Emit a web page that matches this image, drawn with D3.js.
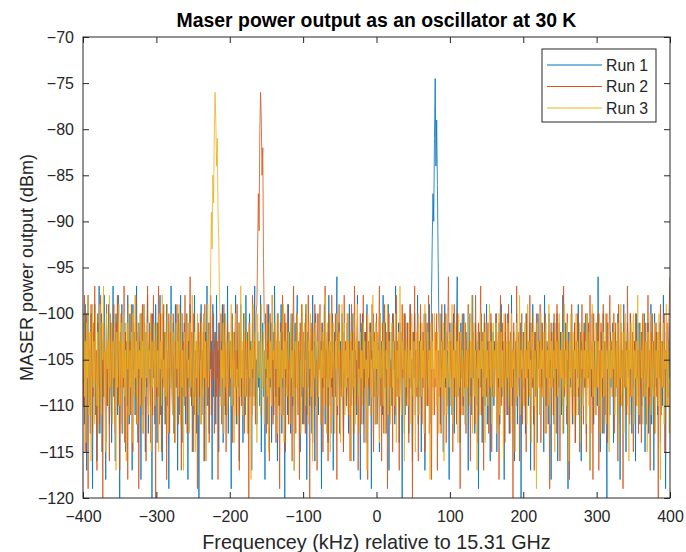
<!DOCTYPE html>
<html>
<head>
<meta charset="utf-8">
<script src="https://cdn.jsdelivr.net/npm/d3@7"></script>
<style>
  body { margin: 0; background: #fff; }
  svg { display: block; font-family: "Liberation Sans", Arial, sans-serif; }
</style>
</head>
<body>
<div id="chart"></div>
<script>
const layout = {
    width: 686,
    height: 552,
    marginTop: 37,
    marginBottom: 54,
    marginLeft: 83,
    marginRight: 16
};

// sampling grid of the spectrum (kHz relative to 15.31 GHz)
const freqStart = -400;
const freqStep = 1;

const seriesNames = ["Run 1", "Run 2", "Run 3"];
const seriesColors = ["#0072BD", "#D95319", "#EDB120"];

const xTicks = [-400, -300, -200, -100, 0, 100, 200, 300, 400];
const yTicks = [-120, -115, -110, -105, -100, -95, -90, -85, -80, -75, -70];

// power readings (dBm), one per grid step
const run1 = [
    -108,-101,-112,-99,-106,-117,-103,-98,-110,-104,-113,-100,-107,-119,-102,-105,-99,-111,-104,-116,-101,-108,-97,-113,-105,-100,-115,-103,-109,-98,-106,-118,-102,-110,-104,-99,-112,-107,-101,-114,
    -104,-97,-109,-103,-116,-100,-106,-111,-98,-105,-120,-102,-108,-99,-113,-104,-107,-101,-115,-103,-110,-98,-105,-112,-100,-108,-103,-117,-99,-106,-102,-111,-104,-97,-109,-114,-101,-107,-103,-118,
    -100,-106,-111,-99,-104,-115,-102,-108,-98,-113,-105,-101,-110,-103,-121,-100,-107,-104,-112,-99,-106,-114,-101,-109,-103,-98,-111,-105,-116,-100,-107,-102,-112,-104,-99,-110,-106,-119,-102,-108,
    -97,-105,-110,-101,-113,-104,-99,-108,-103,-117,-100,-106,-111,-98,-105,-114,-102,-109,-101,-107,-112,-100,-104,-118,-103,-108,-99,-106,-110,-102,-115,-105,-98,-109,-104,-113,-101,-107,-120,-103,
    -105,-99,-111,-104,-108,-100,-116,-102,-107,-97,-110,-105,-113,-101,-106,-103,-118,-99,-109,-104,-102,-112,-98,-107,-104,-115,-101,-109,-103,-106,-99,-114,-105,-100,-111,-104,-108,-97,-113,-102,
    -107,-103,-119,-100,-106,-110,-102,-105,-98,-112,-104,-108,-101,-116,-103,-99,-109,-106,-114,-100,-104,-111,-98,-106,-102,-113,-105,-100,-109,-103,-117,-101,-107,-104,-97,-110,-105,-112,-102,-108,
    -103,-110,-98,-115,-106,-101,-109,-104,-118,-100,-107,-103,-112,-99,-105,-108,-101,-114,-106,-102,-111,-97,-104,-109,-103,-116,-100,-106,-110,-105,-99,-113,-102,-108,-104,-120,-101,-107,-103,-111,
    -99,-106,-102,-113,-105,-100,-110,-104,-117,-101,-108,-103,-98,-111,-106,-102,-115,-104,-109,-100,-107,-112,-103,-105,-99,-118,-102,-108,-104,-110,-101,-106,-113,-98,-107,-103,-116,-100,-105,-109,
    -104,-111,-100,-106,-103,-119,-101,-108,-105,-99,-112,-104,-107,-102,-114,-98,-106,-110,-103,-108,-100,-117,-105,-102,-109,-104,-96,-111,-106,-101,-113,-103,-108,-100,-105,-115,-102,-107,-104,-110,
    -101,-108,-113,-99,-105,-103,-110,-106,-100,-116,-102,-107,-104,-111,-98,-109,-103,-105,-118,-101,-106,-100,-112,-104,-108,-102,-114,-99,-107,-103,-110,-105,-101,-119,-104,-106,-100,-109,-103,-112,
    -106,-102,-109,-104,-115,-100,-107,-103,-111,-98,-105,-108,-101,-113,-106,-104,-99,-117,-102,-108,-105,-110,-100,-106,-103,-112,-97,-109,-104,-107,-101,-114,-105,-102,-108,-120,-103,-106,-100,-111,
    -104,-109,-101,-106,-113,-103,-99,-108,-105,-116,-102,-107,-100,-111,-104,-106,-98,-112,-103,-109,-101,-115,-105,-102,-108,-104,-117,-100,-106,-110,-103,-105,-99,-112,-107,-98,-92,-87,-90,-81,
    -74.5,-84,-79,-86,-94,-101,-104,-112,-100,-106,-103,-115,-105,-99,-108,-102,-110,-104,-107,-118,-101,-106,-103,-111,-105,-100,-113,-104,-108,-102,-96,-109,-106,-103,-114,-101,-107,-104,-110,-100,
    -106,-112,-102,-108,-104,-117,-100,-105,-109,-103,-111,-98,-107,-104,-113,-101,-106,-110,-103,-119,-102,-105,-108,-100,-114,-104,-107,-101,-110,-105,-99,-112,-103,-108,-106,-116,-101,-104,-109,-102,
    -110,-103,-106,-100,-115,-104,-108,-101,-112,-106,-99,-109,-103,-105,-118,-102,-107,-104,-111,-100,-106,-113,-103,-108,-98,-110,-105,-102,-116,-104,-107,-100,-112,-106,-103,-109,-101,-120,-105,-104,
    -102,-108,-105,-113,-100,-107,-103,-110,-106,-101,-117,-104,-108,-99,-112,-105,-102,-109,-104,-114,-100,-106,-103,-111,-107,-101,-108,-105,-115,-98,-106,-110,-103,-104,-112,-100,-107,-105,-118,-102,
    -107,-101,-112,-104,-106,-109,-100,-116,-103,-108,-105,-102,-111,-106,-98,-113,-104,-107,-101,-110,-105,-119,-102,-106,-103,-108,-100,-112,-104,-109,-101,-114,-106,-103,-107,-99,-111,-105,-102,-116,
    -103,-106,-110,-101,-108,-104,-113,-100,-105,-107,-102,-117,-104,-109,-100,-106,-112,-103,-108,-105,-101,-110,-96,-107,-104,-115,-102,-106,-109,-100,-113,-105,-103,-108,-120,-101,-106,-104,-111,-102,
    -108,-104,-101,-114,-106,-102,-109,-103,-107,-100,-112,-105,-118,-101,-106,-104,-110,-99,-108,-103,-115,-105,-101,-107,-104,-111,-100,-106,-113,-102,-108,-105,-103,-116,-100,-107,-104,-109,-101,-112,
    -105,-102,-110,-104,-107,-100,-115,-103,-108,-106,-101,-113,-104,-109,-99,-112,-105,-103,-117,-100,-106,-108,-102,-111,-104,-107,-101,-114,-103,-105,-110,-98,-108,-104,-119,-102,-106,-109,-103,-107,
    -101
];

const run2 = [
    -103,-110,-98,-115,-104,-100,-108,-119,-102,-106,-111,-99,-105,-113,-101,-109,-97,-107,-104,-117,-100,-106,-112,-103,-98,-109,-105,-120,-101,-107,-104,-114,-99,-110,-103,-106,-116,-100,-108,-102,
    -111,-104,-99,-107,-113,-101,-105,-98,-110,-103,-117,-106,-100,-112,-104,-108,-97,-114,-102,-106,-105,-118,-100,-108,-103,-111,-99,-106,-115,-101,-109,-104,-98,-112,-105,-102,-119,-107,-100,-110,
    -104,-99,-113,-106,-101,-108,-116,-103,-97,-110,-105,-102,-114,-100,-107,-111,-98,-106,-103,-120,-101,-109,-104,-97,-112,-106,-100,-115,-103,-108,-99,-111,-105,-102,-118,-104,-107,-100,-113,-106,
    -102,-107,-111,-100,-105,-114,-103,-108,-99,-106,-112,-101,-109,-104,-117,-100,-106,-103,-110,-98,-108,-105,-113,-101,-107,-104,-96,-109,-102,-115,-106,-100,-111,-104,-108,-103,-119,-101,-105,-109,
    -100,-112,-104,-107,-102,-116,-99,-106,-110,-103,-108,-101,-114,-105,-98,-111,-104,-107,-100,-113,-106,-102,-109,-103,-118,-101,-105,-108,-100,-112,-104,-106,-99,-110,-103,-115,-107,-101,-108,-104,
    -109,-103,-106,-100,-114,-105,-102,-108,-104,-111,-99,-107,-103,-117,-101,-106,-110,-104,-108,-100,-113,-105,-102,-109,-103,-106,-120,-101,-107,-104,-111,-98,-105,-109,-103,-112,-100,-99,-93,-87,
    -91,-80,-76,-79,-85,-82,-94,-101,-101,-106,-113,-99,-107,-103,-116,-100,-105,-109,-98,-112,-104,-108,-102,-114,-105,-100,-110,-103,-119,-101,-107,-104,-98,-111,-106,-100,-115,-103,-108,-99,
    -112,-105,-109,-101,-106,-116,-102,-97,-108,-104,-113,-100,-107,-110,-103,-118,-101,-105,-99,-112,-106,-102,-107,-113,-100,-105,-111,-98,-104,-120,-102,-108,-101,-114,-106,-103,-99,-110,-105,-117,
    -100,-107,-104,-99,-112,-106,-101,-115,-103,-108,-97,-110,-105,-102,-116,-100,-107,-104,-113,-98,-109,-103,-111,-105,-100,-107,-118,-102,-106,-99,-113,-104,-109,-101,-105,-115,-98,-108,-103,-110,
    -106,-100,-111,-103,-116,-105,-99,-108,-102,-113,-97,-106,-110,-104,-101,-117,-103,-107,-100,-112,-104,-109,-98,-114,-102,-107,-105,-100,-118,-103,-108,-101,-111,-106,-99,-104,-115,-102,-109,-105,
    -100,-112,-106,-103,-97,-110,-104,-116,-101,-107,-113,-99,-105,-108,-102,-119,-104,-100,-111,-106,-108,-102,-115,-100,-106,-104,-111,-98,-109,-103,-106,-117,-101,-105,-110,-99,-107,-104,-113,-100,
    -105,-110,-101,-107,-114,-103,-99,-108,-105,-120,-102,-106,-97,-111,-104,-109,-101,-116,-103,-107,-99,-106,-112,-102,-108,-100,-115,-104,-107,-101,-110,-98,-113,-105,-103,-118,-100,-108,-106,-111,
    -102,-108,-100,-117,-104,-109,-101,-106,-113,-99,-107,-103,-111,-105,-100,-114,-106,-102,-96,-104,-110,-103,-107,-101,-115,-105,-99,-109,-104,-112,-100,-106,-108,-102,-119,-103,-107,-100,-111,-105,
    -108,-101,-113,-104,-106,-99,-110,-103,-116,-100,-105,-109,-102,-107,-112,-98,-106,-104,-114,-101,-108,-103,-97,-111,-105,-102,-117,-100,-107,-104,-109,-106,-101,-113,-103,-108,-100,-115,-104,-106,
    -103,-109,-105,-100,-112,-107,-102,-118,-104,-98,-110,-106,-101,-108,-103,-114,-100,-107,-105,-111,-99,-106,-113,-102,-108,-104,-120,-101,-106,-103,-110,-97,-109,-105,-102,-116,-104,-107,-100,-112,
    -106,-102,-110,-104,-115,-100,-107,-103,-109,-98,-112,-105,-101,-108,-104,-117,-102,-106,-100,-111,-105,-103,-108,-99,-114,-106,-101,-109,-104,-107,-100,-113,-103,-105,-110,-102,-119,-106,-101,-108,
    -104,-111,-100,-106,-103,-113,-99,-108,-105,-101,-116,-104,-107,-102,-110,-97,-109,-105,-103,-112,-100,-107,-104,-118,-102,-106,-99,-111,-105,-108,-101,-114,-103,-106,-100,-109,-104,-115,-102,-107,
    -99,-106,-112,-102,-108,-100,-115,-104,-107,-101,-110,-98,-113,-105,-103,-118,-100,-108,-106,-111,-102,-108,-100,-117,-104,-109,-101,-106,-113,-99,-107,-103,-111,-105,-100,-114,-106,-102,-98,-104,
    -107,-103,-109,-100,-113,-105,-101,-108,-104,-116,-99,-106,-110,-102,-107,-104,-119,-101,-105,-108,-103,-111,-97,-106,-104,-112,-100,-109,-105,-102,-115,-103,-107,-100,-110,-106,-101,-113,-104,-108,
    -102,-114,-105,-100,-109,-103,-107,-101,-112,-106,-98,-110,-104,-117,-102,-106,-100,-108,-103,-113,-105,-101,-109,-104,-120,-102,-107,-99,-111,-105,-103,-108,-100,-115,-104,-106,-101,-110,-103,-99,
    -96
];

const run3 = [
    -106,-100,-109,-103,-114,-101,-107,-98,-111,-104,-102,-116,-105,-99,-108,-103,-112,-100,-106,-110,-102,-113,-104,-99,-107,-111,-101,-105,-97,-109,-104,-115,-100,-106,-103,-110,-98,-108,-105,-101,
    -112,-103,-107,-100,-105,-117,-102,-108,-104,-99,-110,-106,-101,-113,-103,-107,-100,-109,-104,-116,-101,-106,-99,-111,-104,-108,-102,-114,-100,-105,-109,-98,-107,-103,-112,-101,-106,-104,-110,-100,
    -107,-103,-113,-99,-105,-109,-102,-107,-101,-111,-104,-106,-100,-115,-103,-108,-105,-101,-110,-104,-101,-108,-104,-115,-100,-106,-103,-110,-98,-107,-105,-112,-102,-109,-104,-99,-113,-106,-101,-108,
    -104,-100,-111,-105,-102,-107,-114,-101,-106,-103,-109,-99,-105,-112,-100,-108,-104,-117,-102,-106,-109,-103,-100,-107,-105,-113,-101,-108,-104,-98,-110,-106,-102,-115,-103,-107,-100,-111,-105,-102,
    -106,-112,-101,-104,-109,-100,-107,-103,-116,-105,-99,-108,-104,-101,-95,-89,-93,-85,-88,-80,-76,-79,-84,-81,-89,-92,-98,-102,-110,-104,-107,-101,-113,-105,-100,-108,-103,-111,-106,-102,
    -103,-107,-99,-110,-105,-102,-114,-104,-100,-108,-106,-112,-101,-105,-109,-97,-107,-103,-111,-104,-100,-109,-105,-102,-113,-106,-101,-107,-104,-118,-103,-106,-99,-110,-105,-102,-108,-114,-100,-106,
    -107,-103,-111,-99,-105,-108,-102,-112,-104,-106,-100,-109,-105,-115,-101,-107,-103,-110,-98,-105,-104,-110,-101,-106,-103,-113,-100,-108,-105,-102,-111,-104,-107,-99,-114,-103,-106,-101,-109,-105,
    -102,-106,-112,-100,-107,-104,-109,-101,-117,-105,-103,-108,-100,-111,-106,-102,-105,-113,-104,-99,-108,-104,-101,-110,-105,-99,-107,-112,-103,-106,-100,-109,-104,-116,-102,-107,-105,-101,-111,-106,
    -103,-109,-105,-100,-112,-104,-107,-102,-106,-110,-98,-105,-113,-101,-108,-104,-103,-115,-100,-107,-105,-101,-108,-113,-103,-106,-100,-110,-105,-102,-107,-114,-104,-99,-109,-106,-101,-111,-104,-108,
    -100,-107,-103,-111,-105,-102,-116,-104,-108,-100,-106,-112,-103,-105,-99,-109,-106,-113,-102,-107,-104,-110,-101,-106,-103,-108,-105,-117,-100,-107,-104,-102,-111,-105,-109,-98,-106,-103,-112,-101,
    -106,-102,-109,-104,-114,-100,-107,-105,-103,-110,-101,-108,-113,-104,-106,-99,-111,-103,-107,-112,-105,-101,-108,-103,-110,-106,-100,-114,-104,-107,-102,-109,-97,-105,-111,-103,-106,-100,-116,-104,
    -108,-103,-105,-110,-101,-107,-104,-112,-100,-106,-109,-103,-105,-115,-102,-108,-104,-100,-111,-106,-103,-109,-101,-107,-104,-113,-99,-106,-110,-105,-102,-108,-104,-118,-101,-106,-103,-111,-105,-100,
    -107,-104,-110,-102,-106,-113,-100,-108,-105,-103,-109,-101,-116,-104,-107,-100,-111,-106,-103,-108,-102,-110,-105,-99,-112,-104,-107,-101,-109,-106,-103,-114,-100,-108,-105,-102,-111,-104,-106,-109,
    -101,-106,-112,-104,-108,-100,-105,-110,-103,-107,-98,-113,-105,-101,-109,-104,-106,-117,-102,-107,-104,-111,-100,-106,-103,-109,-105,-102,-114,-101,-107,-104,-110,-106,-99,-108,-103,-112,-105,-101,
    -109,-104,-106,-101,-113,-103,-107,-100,-111,-105,-102,-108,-104,-116,-100,-106,-109,-103,-107,-101,-110,-105,-103,-112,-100,-108,-104,-106,-102,-115,-105,-101,-109,-103,-107,-98,-111,-104,-106,-102,
    -105,-110,-101,-107,-104,-112,-99,-106,-103,-109,-105,-114,-102,-107,-100,-110,-104,-106,-119,-101,-108,-103,-105,-111,-100,-106,-104,-109,-102,-113,-105,-101,-107,-104,-110,-99,-106,-112,-103,-108,
    -102,-107,-104,-115,-101,-106,-103,-109,-105,-100,-111,-104,-107,-102,-113,-106,-99,-108,-104,-110,-101,-105,-116,-103,-107,-100,-109,-105,-102,-112,-104,-106,-100,-111,-103,-108,-105,-101,-114,-104,
    -106,-101,-110,-104,-107,-103,-112,-100,-108,-105,-102,-117,-104,-106,-99,-109,-103,-107,-111,-101,-105,-108,-103,-110,-100,-106,-113,-104,-107,-102,-109,-105,-100,-112,-104,-106,-101,-115,-103,-107,
    -104,-109,-102,-106,-100,-111,-105,-103,-108,-101,-114,-104,-107,-99,-110,-106,-102,-113,-105,-100,-108,-104,-110,-102,-116,-103,-106,-101,-109,-105,-100,-112,-104,-107,-103,-110,-98,-106,-111,-104,
    -101,-107,-104,-112,-100,-106,-109,-103,-105,-115,-102,-108,-104,-100,-111,-106,-103,-109,-105,-101,-113,-104,-107,-102,-110,-100,-106,-118,-103,-105,-108,-101,-112,-104,-106,-99,-110,-103,-107,-113,
    -104
];

const allRuns = [run1, run2, run3];

const plotW = layout.width - layout.marginLeft - layout.marginRight;
const plotH = layout.height - layout.marginTop - layout.marginBottom;
const axisColor = "#262626";

let svg = d3.select("#chart").append("svg")
    .attr("width", layout.width)
    .attr("height", layout.height)
    .attr("viewBox", [0, 0, layout.width, layout.height].join(" "));

let xScale = d3.scaleLinear().domain([-400, 400]).range([0, plotW]);
let yScale = d3.scaleLinear().domain([-120, -70]).range([plotH, 0]);

let plot = svg.append("g")
    .attr("transform", `translate(${layout.marginLeft},${layout.marginTop})`);

plot.append("clipPath").attr("id", "clip")
    .append("rect").attr("width", plotW).attr("height", plotH);

// spectra, run 1 drawn first so run 3 ends on top
let line = d3.line()
    .x((d, i) => xScale(freqStart + i * freqStep))
    .y(d => yScale(d));

let lines = plot.append("g").attr("clip-path", "url(#clip)");
allRuns.forEach((values, k) => {
    lines.append("path")
        .datum(values)
        .attr("fill", "none")
        .attr("stroke", seriesColors[k])
        .attr("stroke-width", 0.8)
        .attr("d", line);
});

// axes with inward ticks on all four sides
function styleAxis(g) {
    g.select(".domain").remove();
    g.selectAll("line").attr("stroke", axisColor);
    g.selectAll("text").attr("fill", axisColor).attr("font-size", 16)
        .attr("font-family", "'Liberation Sans', Arial, sans-serif");
}
const fmt = d => d < 0 ? "\u2212" + Math.abs(d) : d;

plot.append("g")
    .attr("transform", `translate(0,${plotH})`)
    .call(d3.axisBottom(xScale).tickValues(xTicks).tickSizeInner(-6).tickSizeOuter(0).tickPadding(13).tickFormat(fmt))
    .call(styleAxis);
plot.append("g")
    .call(d3.axisTop(xScale).tickValues(xTicks).tickSizeInner(-6).tickSizeOuter(0).tickFormat(""))
    .call(styleAxis);
plot.append("g")
    .call(d3.axisLeft(yScale).tickValues(yTicks).tickSizeInner(-6).tickSizeOuter(0).tickPadding(9).tickFormat(fmt))
    .call(styleAxis);
plot.append("g")
    .attr("transform", `translate(${plotW},0)`)
    .call(d3.axisRight(yScale).tickValues(yTicks).tickSizeInner(-6).tickSizeOuter(0).tickFormat(""))
    .call(styleAxis);

plot.append("rect")
    .attr("width", plotW).attr("height", plotH)
    .attr("fill", "none").attr("stroke", axisColor).attr("stroke-width", 1);

// titles
svg.append("text")
    .attr("x", layout.marginLeft + plotW / 2)
    .attr("y", 27)
    .attr("text-anchor", "middle")
    .attr("font-size", 19.4)
    .attr("font-weight", "bold")
    .attr("fill", "#000")
    .text("Maser power output as an oscillator at 30 K");

svg.append("text")
    .attr("x", layout.marginLeft + plotW / 2)
    .attr("y", 549)
    .attr("text-anchor", "middle")
    .attr("font-size", 19.8)
    .attr("fill", axisColor)
    .text("Frequencey (kHz) relative to 15.31 GHz");

svg.append("text")
    .attr("transform", `translate(33,${layout.marginTop + plotH / 2}) rotate(-90)`)
    .attr("text-anchor", "middle")
    .attr("font-size", 18)
    .attr("fill", axisColor)
    .text("MASER power output (dBm)");

// legend
let legend = svg.append("g").attr("transform", "translate(542,49)");
legend.append("rect")
    .attr("width", 114).attr("height", 73)
    .attr("fill", "#fff").attr("stroke", axisColor).attr("stroke-width", 1);
seriesNames.forEach((name, k) => {
    let y = 16 + k * 21.5;
    legend.append("line")
        .attr("x1", 5).attr("x2", 60).attr("y1", y).attr("y2", y)
        .attr("stroke", seriesColors[k]).attr("stroke-width", 1);
    legend.append("text")
        .attr("x", 64).attr("y", y + 5.5)
        .attr("font-size", 15.8)
        .attr("fill", axisColor)
        .text(name);
});
</script>
</body>
</html>
